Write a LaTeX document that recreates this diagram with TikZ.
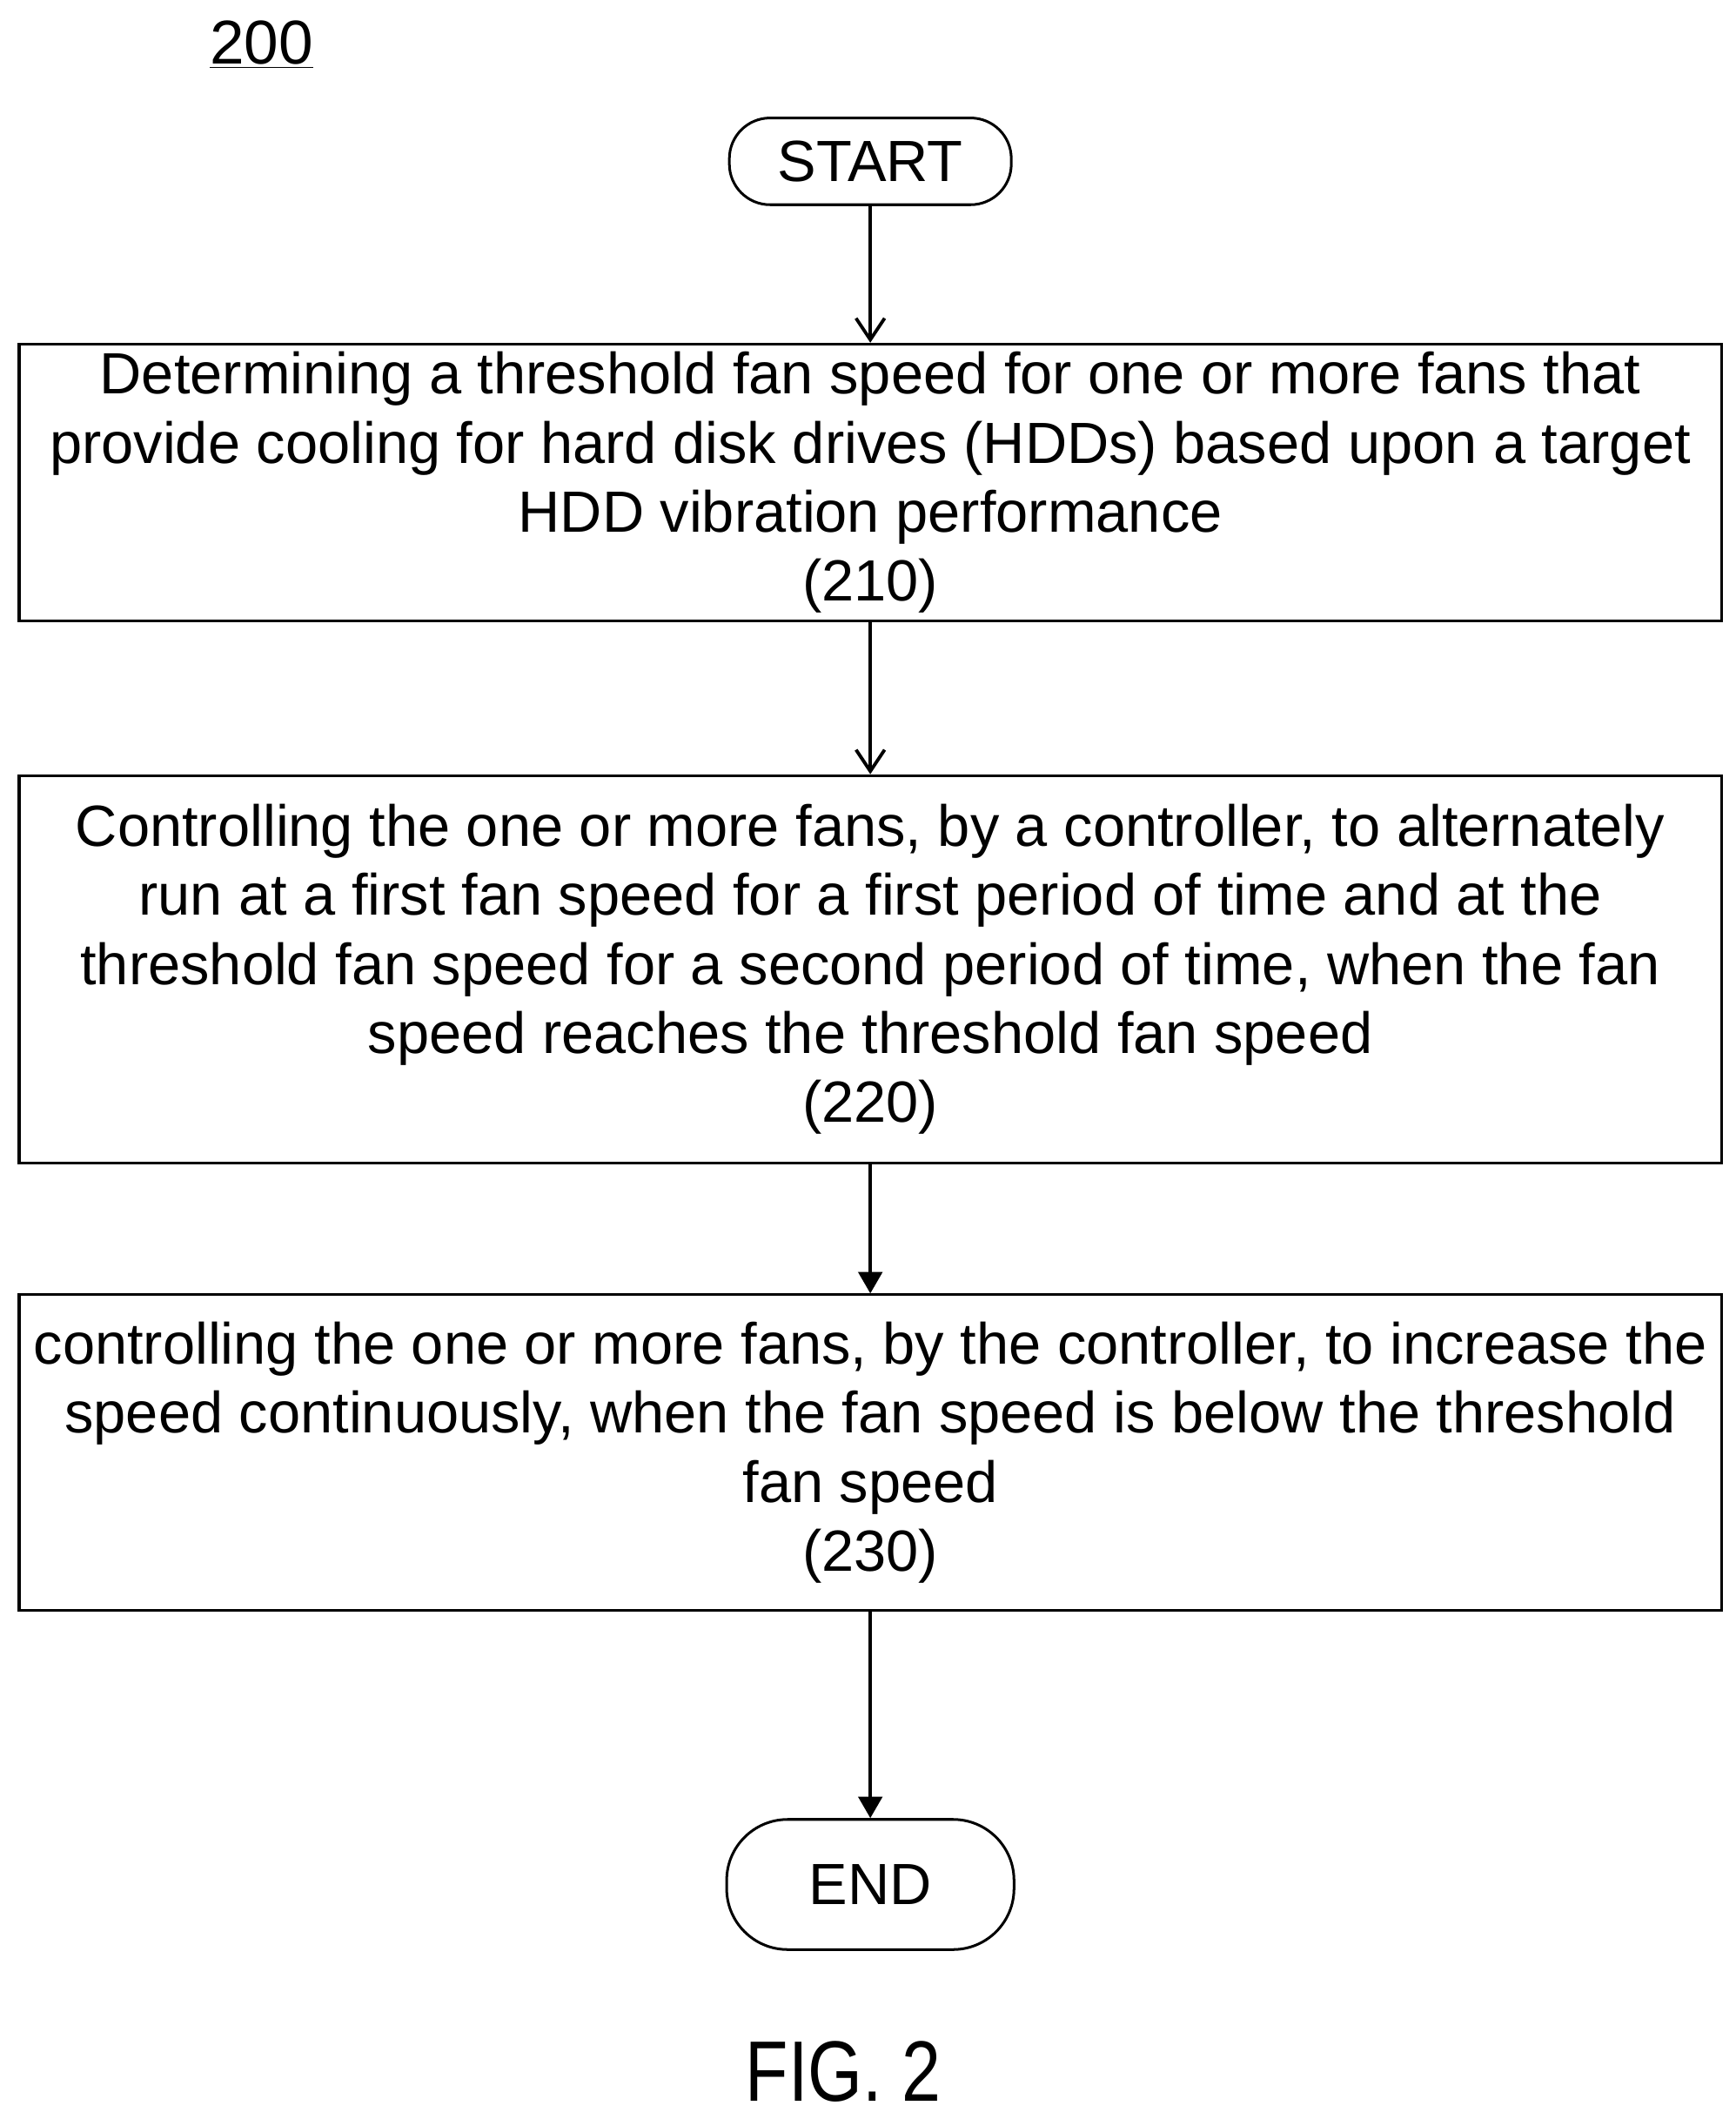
\documentclass[tikz,border=0pt]{standalone}
\usepackage{fontspec}
\setmainfont{Liberation Sans}
\usetikzlibrary{arrows.meta}
\begin{document}
\begin{tikzpicture}[x=0.02cm,y=-0.02cm,
    stepbox/.style={draw,line width=1.1pt,minimum width=25.12cm,align=center,font=\fontsize{24.4}{29}\selectfont},
    term/.style={draw,line width=1.1pt,rounded corners=0.6cm,font=\fontsize{24.4}{29}\selectfont},
    flow/.style={line width=1.4pt,-{Straight Barb[length=9pt,width=12pt]}},
    flowb/.style={line width=1.4pt,-{Triangle[length=9pt,width=10pt]}}]
    \useasboundingbox (0,0) rectangle (1280,1563);
    \node (label) at (193,33) {\fontsize{26}{30}\selectfont\underline{200}};
    \node[term,minimum width=4.16cm,minimum height=1.28cm] (start) at (642,119) {START};
    \node[stepbox,minimum height=4.04cm] (s210) at (642,356) {Determining a threshold fan speed for one or more fans that\\provide cooling for hard disk drives (HDDs) based upon a target\\HDD vibration performance\\(210)};
    \node[stepbox,minimum height=5.72cm] (s220) at (642,715) {Controlling the one or more fans, by a controller, to alternately\\run at a first fan speed for a first period of time and at the\\threshold fan speed for a second period of time, when the fan\\speed reaches the threshold fan speed\\(220)};
    \node[stepbox,minimum height=4.66cm] (s230) at (642,1071.5) {controlling the one or more fans, by the controller, to increase the\\speed continuously, when the fan speed is below the threshold\\fan speed\\(230)};
    \node[term,minimum width=4.24cm,minimum height=1.92cm,rounded corners=0.9cm] (end) at (642,1390) {END};
    \node (fig) at (622,1528) {\fontsize{36}{40}\selectfont\scalebox{0.82}[1]{FIG. 2}};
    \draw[flow] (start) -- (s210);
    \draw[flow] (s210) -- (s220);
    \draw[flowb] (s220) -- (s230);
    \draw[flowb] (s230) -- (end);
\end{tikzpicture}
\end{document}
